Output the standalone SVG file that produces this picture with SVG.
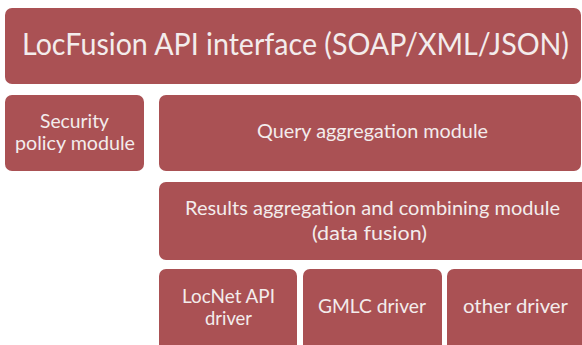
<svg xmlns="http://www.w3.org/2000/svg" width="582" height="345" viewBox="0 0 582 345">
<style>
.box{fill:#AA5154;}
.t{fill:#F3ECEC;font-family:Lato,"Open Sans",sans-serif;text-anchor:middle;}
.m{font-size:18.5px;}
.big{font-size:30px;}
</style>
<rect width="582" height="345" fill="#FFFFFF"/>
<g id="connectors"></g>
<g id="api">
<rect class="box" x="5" y="8" width="576" height="76" rx="7"/>
<text class="t big" x="295.5" y="55" textLength="547" lengthAdjust="spacingAndGlyphs">LocFusion API interface (SOAP/XML/JSON)</text>
</g>
<g id="security">
<rect class="box" x="5" y="95" width="139" height="76" rx="7"/>
<text class="t m" x="74.5" y="128" textLength="69" lengthAdjust="spacingAndGlyphs">Security</text>
<text class="t m" x="75" y="150" textLength="120" lengthAdjust="spacingAndGlyphs">policy module</text>
</g>
<g id="query">
<rect class="box" x="159" y="95" width="422" height="76" rx="7"/>
<text class="t m" x="372.5" y="138" textLength="231" lengthAdjust="spacingAndGlyphs">Query aggregation module</text>
</g>
<g id="results">
<rect class="box" x="159" y="182" width="432" height="78" rx="7"/>
<text class="t m" x="372.5" y="215" textLength="375" lengthAdjust="spacingAndGlyphs">Results aggregation and combining module</text>
<text class="t m" x="369.5" y="240" textLength="115" lengthAdjust="spacingAndGlyphs">(data fusion)</text>
</g>
<g id="locnet">
<rect class="box" x="159" y="269" width="138" height="90" rx="7"/>
<text class="t m" x="228.5" y="303" textLength="93" lengthAdjust="spacingAndGlyphs">LocNet API</text>
<text class="t m" x="228.5" y="325" textLength="47" lengthAdjust="spacingAndGlyphs">driver</text>
</g>
<g id="gmlc">
<rect class="box" x="303" y="269" width="139" height="90" rx="7"/>
<text class="t m" x="372" y="313" textLength="108" lengthAdjust="spacingAndGlyphs">GMLC driver</text>
</g>
<g id="other">
<rect class="box" x="447" y="269" width="144" height="90" rx="7"/>
<text class="t m" x="515.5" y="313" textLength="105" lengthAdjust="spacingAndGlyphs">other driver</text>
</g>
</svg>
